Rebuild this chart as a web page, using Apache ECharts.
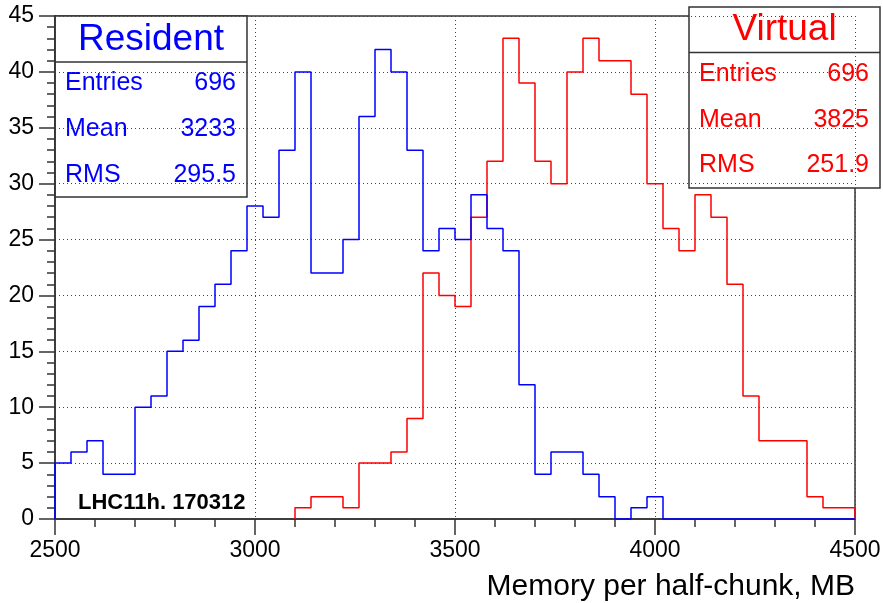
<!DOCTYPE html>
<html>
<head>
<meta charset="utf-8">
<title>Memory per half-chunk</title>
<script src="https://cdn.jsdelivr.net/npm/echarts@6/dist/echarts.min.js"></script>
<style>
  html, body { margin: 0; padding: 0; background: #fff; }
  #chart { width: 883px; height: 603px; }
</style>
</head>
<body>
<div id="chart"></div>
<script>
// Histogram bins: lower edges (MB), each bin is 40 MB wide
const binLowEdges = [
  2500, 2540, 2580, 2620, 2660, 2700, 2740, 2780, 2820, 2860,
  2900, 2940, 2980, 3020, 3060, 3100, 3140, 3180, 3220, 3260,
  3300, 3340, 3380, 3420, 3460, 3500, 3540, 3580, 3620, 3660,
  3700, 3740, 3780, 3820, 3860, 3900, 3940, 3980, 4020, 4060,
  4100, 4140, 4180, 4220, 4260, 4300, 4340, 4380, 4420, 4460
];
const binWidth = 40;

// Resident memory counts per bin
const residentCounts = [
  5, 6, 7, 4, 4, 10, 11, 15, 16, 19,
  21, 24, 28, 27, 33, 40, 22, 22, 25, 36,
  42, 40, 33, 24, 26, 25, 29, 26, 24, 12,
  4, 6, 6, 4, 2, 0, 1, 2, 0, 0,
  0, 0, 0, 0, 0, 0, 0, 0, 0, 0
];

// Virtual memory counts per bin
const virtualCounts = [
  0, 0, 0, 0, 0, 0, 0, 0, 0, 0,
  0, 0, 0, 0, 0, 1, 2, 2, 1, 5,
  5, 6, 9, 22, 20, 19, 27, 32, 43, 39,
  32, 30, 40, 43, 41, 41, 38, 30, 26, 24,
  29, 27, 21, 11, 7, 7, 7, 2, 1, 1
];

// Statistics boxes
const residentStats = [['Entries', '696'], ['Mean', '3233'], ['RMS', '295.5']];
const virtualStats = [['Entries', '696'], ['Mean', '3825'], ['RMS', '251.9']];

const xTicks = { min: 2500, max: 4500, step: 500 };
const yTicks = { min: 0, max: 45, step: 5 };

// Build an outline (ROOT-style step histogram) from bin contents.
// Leading empty bins are not drawn when skipLeadingZeros is set.
function stepOutline(counts, skipLeadingZeros) {
  let first = 0;
  if (skipLeadingZeros) {
    while (first < counts.length && counts[first] === 0) first++;
  }
  const pts = [[binLowEdges[first], 0]];
  for (let i = first; i < counts.length; i++) {
    const lo = binLowEdges[i], hi = lo + binWidth;
    pts.push([lo, counts[i]]);
    pts.push([hi, counts[i]]);
  }
  pts.push([binLowEdges[counts.length - 1] + binWidth, 0]);
  return pts;
}

const FONT = '"Liberation Sans", Arial, Helvetica, sans-serif';
const FRAME = '#333333';

function statsBox(x, y, w, h, sepY, title, titleCY, rows, rowCY, color) {
  const els = [
    { type: 'rect', shape: { x: x, y: y, width: w, height: h },
      style: { fill: '#ffffff', stroke: FRAME, lineWidth: 1.5 } },
    { type: 'line', shape: { x1: x, y1: sepY, x2: x + w, y2: sepY },
      style: { stroke: FRAME, lineWidth: 1.5 } },
    { type: 'text', x: x + w / 2, y: titleCY,
      style: { text: title, fill: color, font: '37px ' + FONT, align: 'center', verticalAlign: 'middle' } }
  ];
  rows.forEach((r, i) => {
    els.push({ type: 'text', x: x + 10, y: rowCY[i],
      style: { text: r[0], fill: color, font: '25px ' + FONT, align: 'left', verticalAlign: 'middle' } });
    els.push({ type: 'text', x: x + w - 11, y: rowCY[i],
      style: { text: r[1], fill: color, font: '25px ' + FONT, align: 'right', verticalAlign: 'middle' } });
  });
  return { type: 'group', z: 100, children: els };
}

const chart = echarts.init(document.getElementById('chart'), null, { renderer: 'canvas' });

const dotted = { color: '#444', width: 1, type: [1, 3] };
const plainNumber = v => String(v);

chart.setOption({
  animation: false,
  backgroundColor: '#ffffff',
  grid: {
    left: 55, top: 16, right: 28, bottom: 84,
    outerBoundsMode: 'none',
    containLabel: false,
    show: true, borderColor: FRAME, borderWidth: 1.5, backgroundColor: 'transparent'
  },
  xAxis: {
    type: 'value',
    min: xTicks.min, max: xTicks.max, interval: xTicks.step,
    name: 'Memory per half-chunk, MB',
    nameLocation: 'end',
    nameGap: 0,
    nameTextStyle: {
      fontFamily: FONT, fontSize: 30, color: '#000',
      align: 'right', verticalAlign: 'top', padding: [53, 0, 0, 0]
    },
    axisLine: { show: true, onZero: false, lineStyle: { color: FRAME, width: 1.5 } },
    axisTick: { show: true, inside: false, length: 16, lineStyle: { color: FRAME, width: 1.5 } },
    minorTick: { show: true, splitNumber: 5, length: 8, lineStyle: { color: FRAME, width: 1.5 } },
    axisLabel: { fontFamily: FONT, fontSize: 23, color: '#000', margin: 20, formatter: plainNumber },
    splitLine: { show: true, lineStyle: dotted }
  },
  yAxis: {
    type: 'value',
    min: yTicks.min, max: yTicks.max, interval: yTicks.step,
    axisLine: { show: true, lineStyle: { color: FRAME, width: 1.5 } },
    axisTick: { show: true, inside: false, length: 16, lineStyle: { color: FRAME, width: 1.5 } },
    minorTick: { show: true, splitNumber: 5, length: 8, lineStyle: { color: FRAME, width: 1.5 } },
    axisLabel: { fontFamily: FONT, fontSize: 23, color: '#000', margin: 21, formatter: plainNumber },
    splitLine: { show: true, lineStyle: dotted }
  },
  series: [
    {
      name: 'Virtual',
      type: 'line',
      data: stepOutline(virtualCounts, true),
      showSymbol: false,
      clip: false,
      z: 3,
      lineStyle: { color: '#ff0000', width: 1.5 }
    },
    {
      name: 'Resident',
      type: 'line',
      data: stepOutline(residentCounts, false),
      showSymbol: false,
      clip: false,
      z: 4,
      lineStyle: { color: '#0000ff', width: 1.5 }
    }
  ],
  graphic: [
    statsBox(55, 16, 192, 181, 62, 'Resident', 40, residentStats, [83, 129, 175.5], '#0000ff'),
    statsBox(689, 7, 191, 181, 52.5, 'Virtual', 30, virtualStats, [74, 120, 165.5], '#ff0000'),
    { type: 'text', x: 78, y: 503, z: 100,
      style: { text: 'LHC11h. 170312', fill: '#000', font: 'bold 22px ' + FONT,
               align: 'left', verticalAlign: 'middle' } }
  ]
});
</script>
</body>
</html>
